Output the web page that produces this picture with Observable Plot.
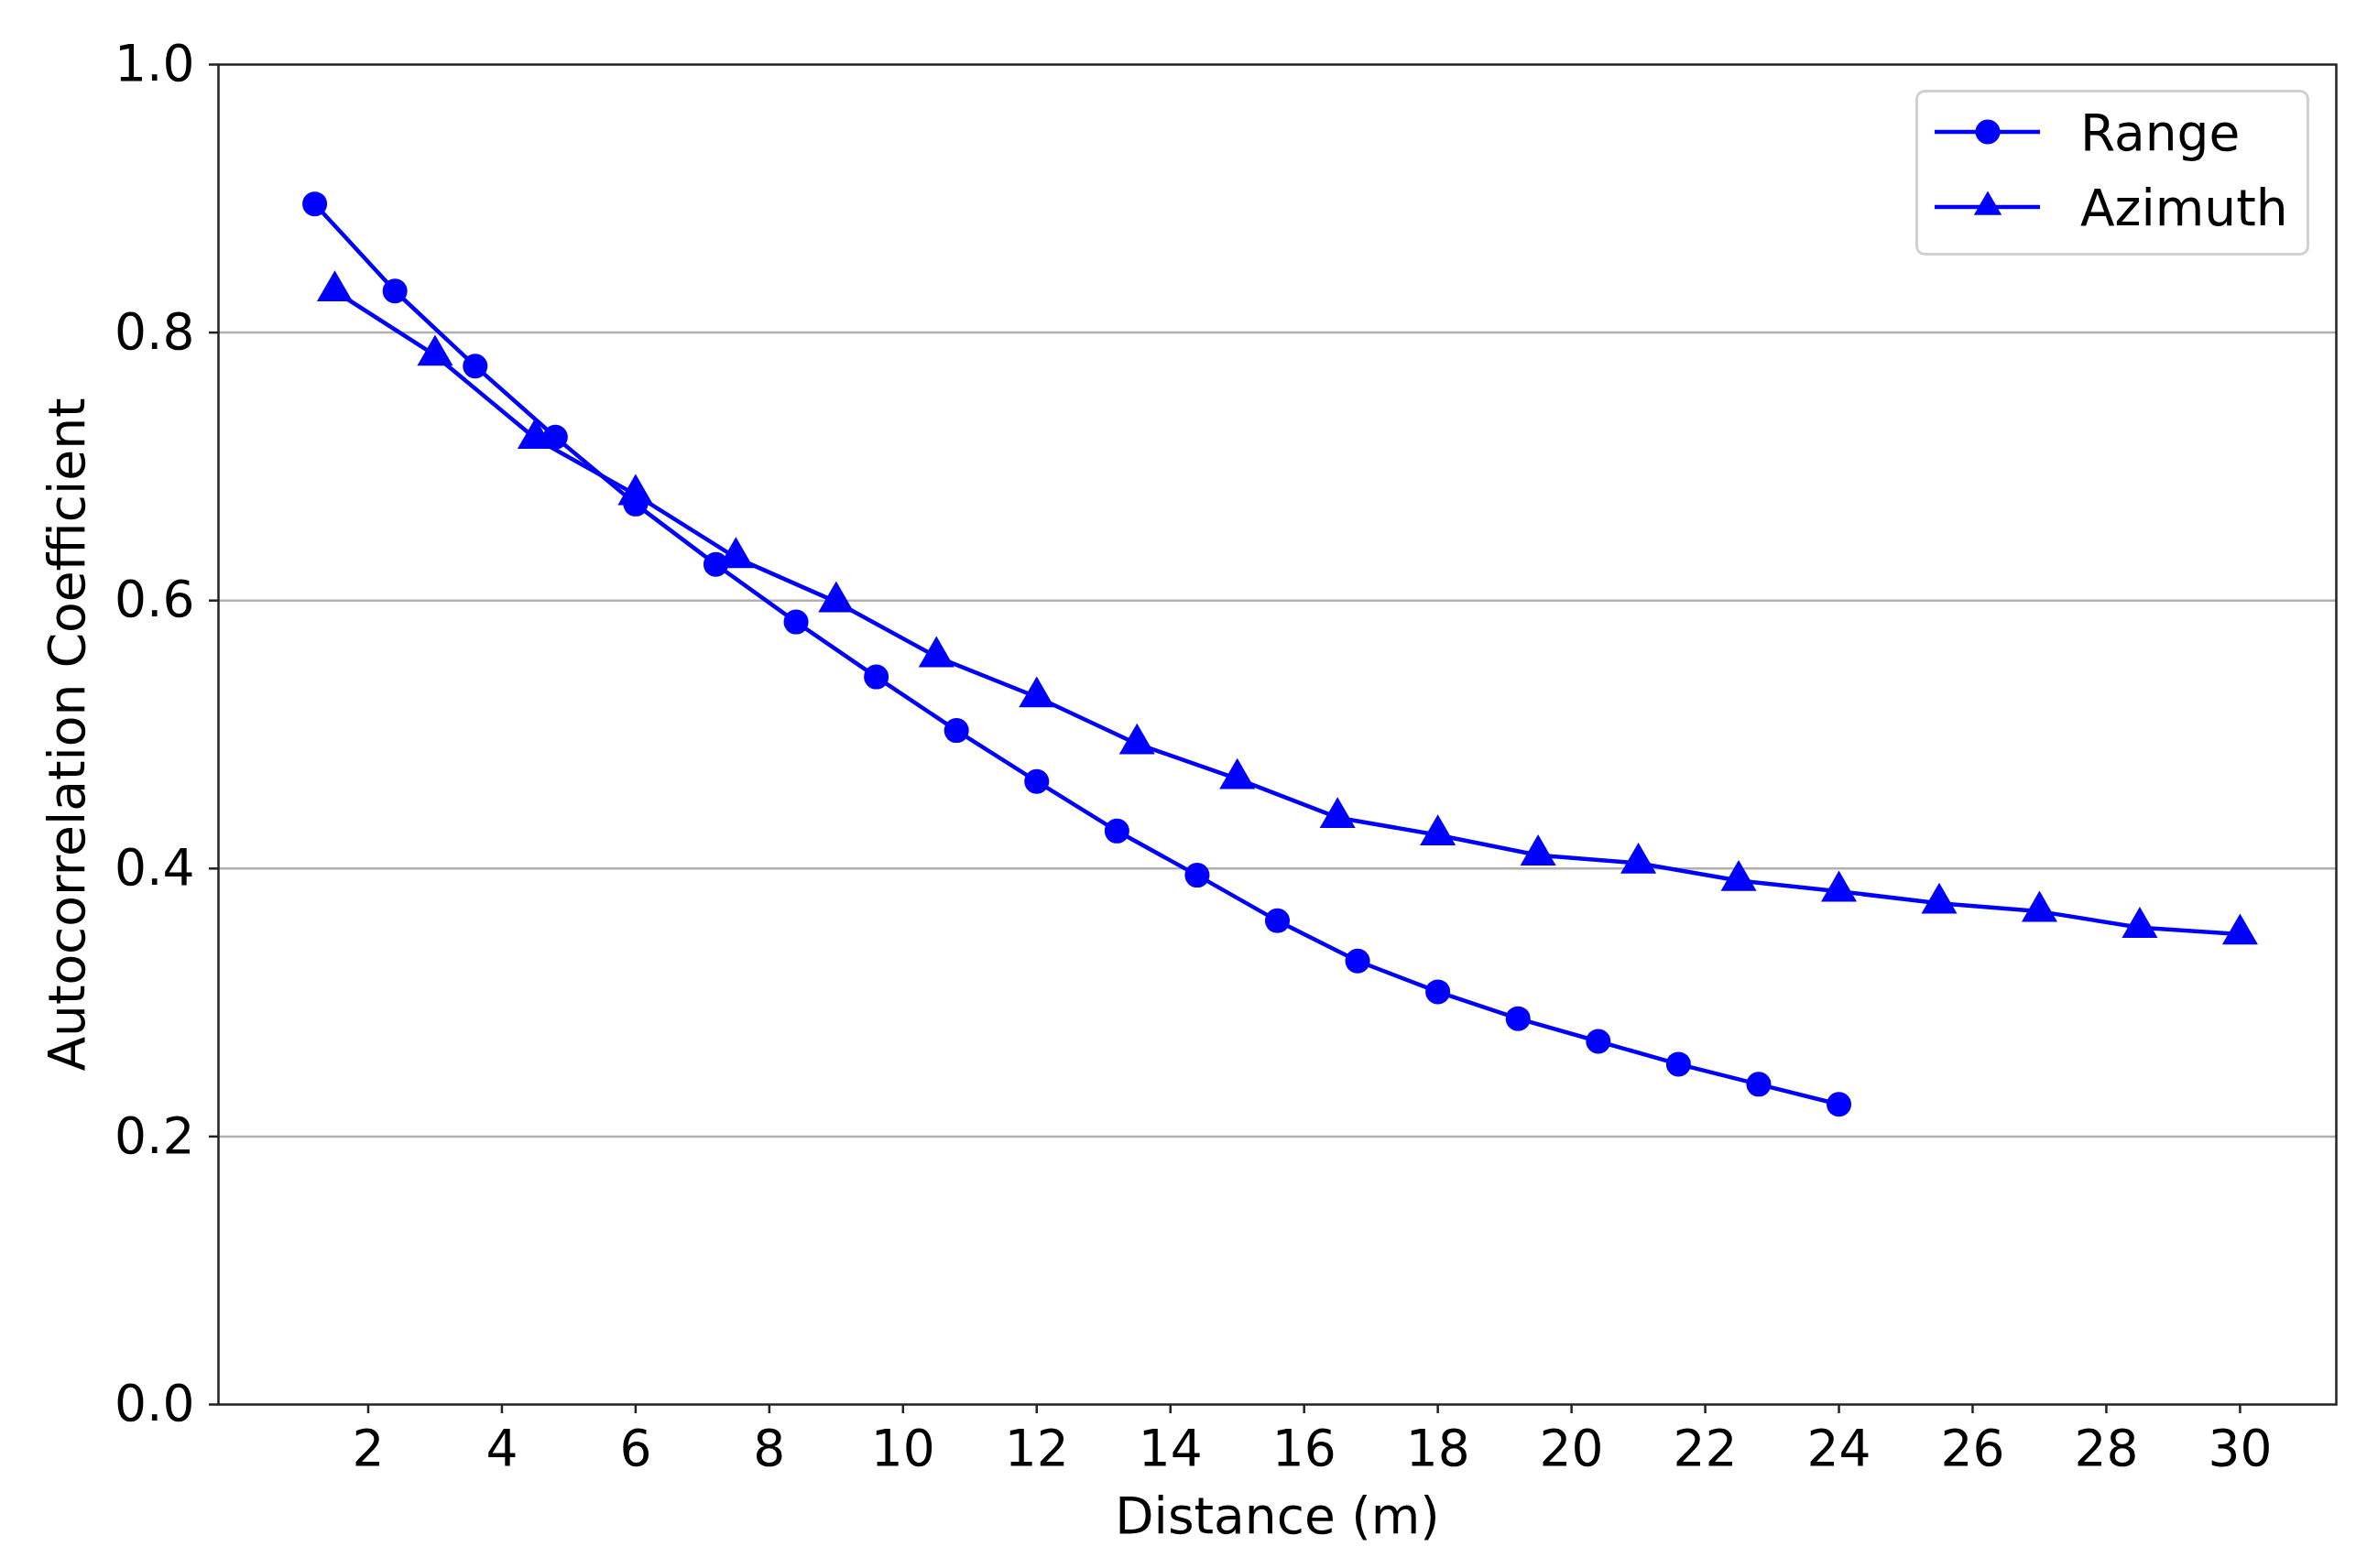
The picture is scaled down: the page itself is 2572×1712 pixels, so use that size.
<!DOCTYPE html>
<html>
<head>
<meta charset="utf-8">
<script src="https://cdn.jsdelivr.net/npm/d3@7"></script>
<script src="https://cdn.jsdelivr.net/npm/@observablehq/plot@0.6"></script>
<style>
  html, body { margin: 0; padding: 0; background: #fff; }
  #wrap { position: relative; width: 2572px; height: 1712px; font-family: "DejaVu Sans", sans-serif; }
  #legend { position: absolute; left: 2091px; top: 98px; width: 430px; height: 181px;
            box-sizing: border-box; border: 3px solid #d0d0d0; border-radius: 10px; background: #fff; }
</style>
</head>
<body>
<div id="wrap"><div id="chart"></div><div id="legend"></div></div>
<script>
// ---- data ----
const seriesNames = ["Range", "Azimuth"];
const rangeDistance = [1.2, 2.4, 3.6, 4.8, 6.0, 7.2, 8.4, 9.6, 10.8, 12.0, 13.2, 14.4, 15.6, 16.8, 18.0, 19.2, 20.4, 21.6, 22.8, 24.0];
const rangeValues   = [0.896, 0.831, 0.775, 0.722, 0.672, 0.627, 0.584, 0.543, 0.503, 0.465, 0.428, 0.395, 0.361, 0.331, 0.308, 0.288, 0.271, 0.254, 0.239, 0.224];
const azimuthDistance = [1.5, 3.0, 4.5, 6.0, 7.5, 9.0, 10.5, 12.0, 13.5, 15.0, 16.5, 18.0, 19.5, 21.0, 22.5, 24.0, 25.5, 27.0, 28.5, 30.0];
const azimuthValues   = [0.831, 0.783, 0.721, 0.679, 0.632, 0.599, 0.558, 0.528, 0.493, 0.467, 0.438, 0.425, 0.410, 0.404, 0.391, 0.383, 0.374, 0.368, 0.356, 0.351];
const xTicks = [2, 4, 6, 8, 10, 12, 14, 16, 18, 20, 22, 24, 26, 28, 30];
const yTicks = [0, 0.2, 0.4, 0.6, 0.8, 1.0];
const yTickLabels = ["0.0", "0.2", "0.4", "0.6", "0.8", "1.0"];
const gridValues = [0.2, 0.4, 0.6, 0.8];
const xLabel = "Distance (m)";
const yLabel = "Autocorrelation Coefficient";

// ---- tables built from the arrays ----
const rangeData = rangeDistance.map((d, i) => ({x: d, y: rangeValues[i]}));
const azimuthData = azimuthDistance.map((d, i) => ({x: d, y: azimuthValues[i]}));

const BLUE = "#0000ff";
const FONT = "DejaVu Sans";
const LW = 4.5;
const R_CIRCLE = 13.5;
const R_TRI = 14.5;

const chart = Plot.plot({
  width: 2572,
  height: 1712,
  marginLeft: 238,
  marginRight: 22,
  marginTop: 70,
  marginBottom: 179,
  style: { fontFamily: FONT, fontSize: "55px", background: "#fff", color: "#000" },
  x: { domain: [-0.24, 31.44] },
  y: { domain: [0, 1] },
  marks: [
    Plot.ruleY(gridValues, { stroke: "#b0b0b0", strokeWidth: 2.5 }),
    Plot.line(rangeData, { x: "x", y: "y", stroke: BLUE, strokeWidth: LW }),
    Plot.line(azimuthData, { x: "x", y: "y", stroke: BLUE, strokeWidth: LW }),
    Plot.dot(rangeData, { x: "x", y: "y", r: R_CIRCLE, fill: BLUE, stroke: "none", symbol: "circle" }),
    Plot.dot(azimuthData, { x: "x", y: "y", r: R_TRI, fill: BLUE, stroke: "none", symbol: "triangle" }),
    Plot.frame({ stroke: "#222", strokeWidth: 2.5 }),
    Plot.axisX(xTicks, { tickSize: 10, tickPadding: 17, fontSize: 55, label: null, stroke: "#222", strokeWidth: 2.5, fill: "#000" }),
    Plot.axisY(yTicks, { tickSize: 10, tickPadding: 16, fontSize: 55, label: null, stroke: "#222", strokeWidth: 2.5, fill: "#000",
                          tickFormat: (d) => yTickLabels[yTicks.indexOf(d)] }),
    Plot.text([xLabel], { frameAnchor: "bottom", dy: 123, text: (d) => d, fontSize: 55, textAnchor: "middle", lineAnchor: "middle", fill: "#000" }),
    Plot.text([yLabel], { frameAnchor: "left", dx: -164, rotate: -90, text: (d) => d, fontSize: 55, textAnchor: "middle", lineAnchor: "middle", fill: "#000" })
  ]
});
document.getElementById("chart").appendChild(chart);

// ---- legend ----
const legend = d3.select("#legend").append("svg")
  .attr("width", 424).attr("height", 175)
  .style("position", "absolute").style("left", "0px").style("top", "0px");
const symbols = [d3.symbolCircle, d3.symbolTriangle2];
const sizes = [Math.PI * R_CIRCLE * R_CIRCLE, Math.PI * R_TRI * R_TRI];
seriesNames.forEach((name, i) => {
  const cy = 43 + i * 82;
  const g = legend.append("g");
  g.append("line").attr("x1", 18).attr("x2", 133).attr("y1", cy).attr("y2", cy)
    .attr("stroke", BLUE).attr("stroke-width", LW);
  g.append("path").attr("d", d3.symbol(symbols[i], sizes[i])())
    .attr("transform", `translate(76,${cy})`).attr("fill", BLUE);
  g.append("text").attr("x", 177).attr("y", cy).attr("dy", "0.36em")
    .attr("font-family", FONT).attr("font-size", 55).attr("fill", "#000").text(name);
});
</script>
</body>
</html>
